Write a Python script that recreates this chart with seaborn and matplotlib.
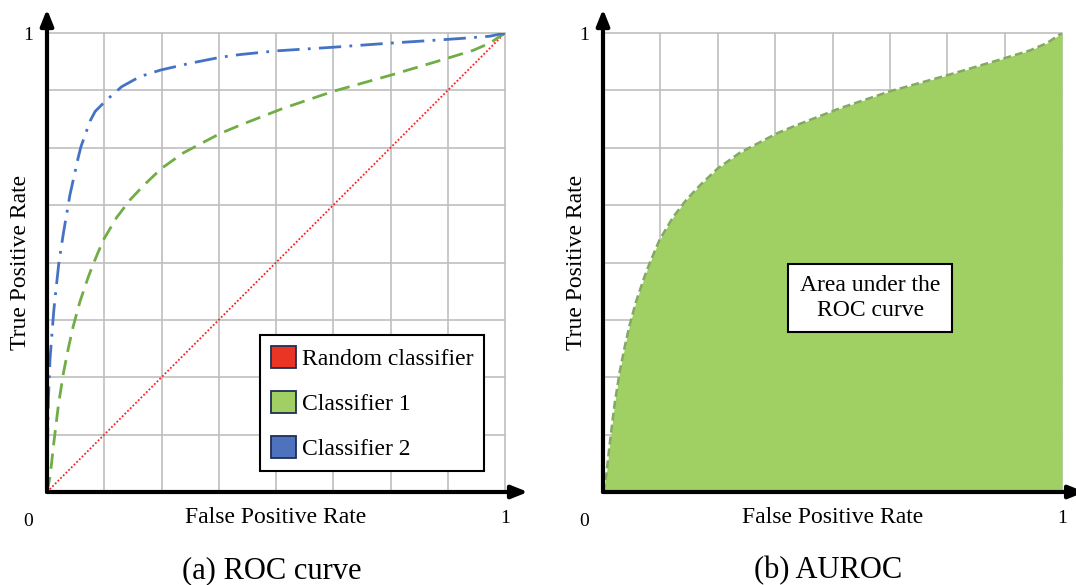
import numpy as np
import pandas as pd
import matplotlib
matplotlib.use("Agg")
import matplotlib.pyplot as plt
from matplotlib.patches import Patch
import seaborn as sns

# ---------------- data ----------------
random_fpr = [0.0, 1.0]
random_tpr = [0.0, 1.0]

clf1_fpr = [0.0, 0.007, 0.014, 0.025, 0.036, 0.047, 0.057, 0.072, 0.090, 0.101,
            0.123, 0.152, 0.181, 0.211, 0.250, 0.298, 0.378, 0.421, 0.516, 0.625,
            0.750, 0.858, 0.930, 0.967, 1.0]
clf1_tpr = [0.0, 0.035, 0.100, 0.190, 0.260, 0.315, 0.360, 0.415, 0.468, 0.497,
            0.549, 0.598, 0.636, 0.668, 0.705, 0.739, 0.781, 0.799, 0.836, 0.873,
            0.908, 0.940, 0.962, 0.978, 1.0]

clf2_fpr = [0.0, 0.001, 0.003, 0.0065, 0.012, 0.015, 0.020, 0.026, 0.036, 0.050,
            0.068, 0.074, 0.094, 0.105, 0.130, 0.163, 0.203, 0.247, 0.312, 0.378,
            0.421, 0.500, 0.625, 0.750, 0.858, 0.902, 0.967, 1.0]
clf2_tpr = [0.0, 0.090, 0.200, 0.288, 0.360, 0.397, 0.445, 0.500, 0.565, 0.647,
            0.728, 0.752, 0.808, 0.829, 0.854, 0.883, 0.905, 0.919, 0.934, 0.947,
            0.953, 0.961, 0.969, 0.978, 0.985, 0.988, 0.993, 1.0]

# AUROC panel uses the Classifier 1 curve
auroc_fpr = clf1_fpr
auroc_tpr = clf1_tpr

legend_labels = ["Random classifier", "Classifier 1", "Classifier 2"]
legend_colors = ["#ea3424", "#a0cf63", "#4f72be"]
grid_ticks = [0, 0.125, 0.25, 0.375, 0.5, 0.625, 0.75, 0.875, 1.0]
tick_labels = {1.0: "1"}
origin_label = "0"
x_label = "False Positive Rate"
y_label = "True Positive Rate"
captions = ["(a) ROC curve", "(b) AUROC"]
box_text = "Area under the\nROC curve"

# ---------------- style ----------------
sns.set_theme(style="white")
plt.rcParams["font.family"] = ["Liberation Serif", "DejaVu Serif"]
plt.rcParams["axes.facecolor"] = "white"
plt.rcParams["figure.facecolor"] = "white"
plt.rcParams["text.color"] = "black"
plt.rcParams["axes.labelcolor"] = "black"
plt.rcParams["xtick.color"] = "black"
plt.rcParams["ytick.color"] = "black"
plt.rcParams["legend.labelcolor"] = "black"

W, H = 1076, 585
fig = plt.figure(figsize=(W / 100, H / 100), dpi=100)
axL = fig.add_axes([47 / W, 93 / H, 458 / W, 459 / H])
axR = fig.add_axes([603 / W, 93 / H, 459 / W, 459 / H])

GRID_C = "#bfbfbf"
LABEL_FS = 17
TICK_FS = 14


def style_axes(ax, ylabel_x):
    ax.set_xlim(0, 1)
    ax.set_ylim(0, 1)
    for s in ax.spines.values():
        s.set_visible(False)
    ax.set_xticks(grid_ticks)
    ax.set_yticks(grid_ticks)
    ax.set_xticklabels([tick_labels.get(t, "") for t in grid_ticks])
    ax.set_yticklabels([tick_labels.get(t, "") for t in grid_ticks])
    ax.tick_params(axis="both", length=0, labelsize=TICK_FS, colors="black")
    ax.tick_params(axis="x", pad=13)
    ax.tick_params(axis="y", pad=10)
    ax.grid(True, color=GRID_C, lw=1.2, zorder=0)
    ax.set_axisbelow(True)
    for t in ax.xaxis.get_major_ticks() + ax.yaxis.get_major_ticks():
        t.gridline.set_clip_on(False)
    # axis arrows
    arrow_kw = dict(arrowstyle="-|>,head_length=0.6,head_width=0.24",
                    lw=3, color="black", shrinkA=0, shrinkB=0, mutation_scale=16)
    ax.annotate("", xy=(1.05, 0), xytext=(0, 0), xycoords="data",
                arrowprops=arrow_kw, annotation_clip=False, zorder=10)
    ax.annotate("", xy=(0, 1.052), xytext=(0, 0), xycoords="data",
                arrowprops=arrow_kw, annotation_clip=False, zorder=10)
    ax.text(-0.041, -0.064, origin_label, ha="center", va="center",
            fontsize=TICK_FS, color="black", transform=ax.transAxes, clip_on=False)
    ax.set_xlabel(x_label, fontsize=LABEL_FS, color="black", ha="center", va="center")
    ax.set_ylabel(y_label, fontsize=LABEL_FS, color="black", ha="center", va="center")
    ax.xaxis.set_label_coords(0.5, -0.0545)
    ax.yaxis.set_label_coords(ylabel_x, 0.5)


# ---------------- (a) ROC curve ----------------
style_axes(axL, -0.0568)
sns.lineplot(x=random_fpr, y=random_tpr, ax=axL, color="#ff2020", lw=1.3,
             linestyle=(0, (1, 1.1)), estimator=None, sort=False, zorder=3)
sns.lineplot(x=clf1_fpr, y=clf1_tpr, ax=axL, color="#70ad47", lw=2.0,
             linestyle=(0, (5.5, 3)), estimator=None, sort=False, zorder=3)
sns.lineplot(x=clf2_fpr, y=clf2_tpr, ax=axL, color="#4472c4", lw=2.0,
             linestyle=(0, (8, 3, 1, 3)), estimator=None, sort=False, zorder=3)

handles = [Patch(facecolor=c, edgecolor="#1f2f55", lw=1.3, label=l)
           for c, l in zip(legend_colors, legend_labels)]
leg = axL.legend(handles=handles, loc="lower left", bbox_to_anchor=(0.465, 0.046),
                 fontsize=LABEL_FS, handlelength=1.06, handleheight=1.06,
                 handletextpad=0.24, labelspacing=0.88, borderpad=0.47,
                 borderaxespad=0, frameon=True, fancybox=False, edgecolor="black",
                 framealpha=1)
leg.get_frame().set_linewidth(1.5)
leg.set_zorder(6)
for t in leg.get_texts():
    t.set_color("black")

# ---------------- (b) AUROC ----------------
style_axes(axR, (577 - 603) / 459)
axR.fill_between(auroc_fpr, auroc_tpr, 0, color="#a0cf63", lw=0, zorder=2)
sns.lineplot(x=auroc_fpr, y=auroc_tpr, ax=axR, color="#84a962", lw=1.8,
             linestyle=(0, (3.2, 1.6)), estimator=None, sort=False, zorder=3)
axR.text(0.582, 0.4227, box_text, ha="center", va="center", fontsize=LABEL_FS,
         linespacing=1.2, zorder=6, color="black",
         bbox=dict(boxstyle="square,pad=0.5", fc="white", ec="black", lw=1.5))

# captions
fig.text(272 / W, 1 - 571 / H, captions[0], ha="center", va="center", fontsize=22,
         color="black")
fig.text(828 / W, 1 - 571 / H, captions[1], ha="center", va="center", fontsize=22,
         color="black")

fig.savefig("out.png", dpi=100)
